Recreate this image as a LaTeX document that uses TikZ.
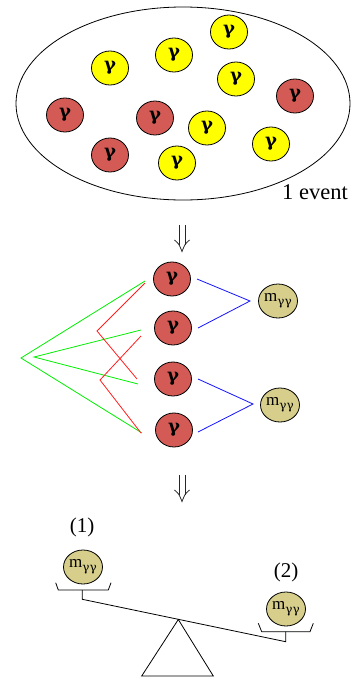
\documentclass[tikz,border=0pt]{standalone}
\usepackage{fontspec}
\setmainfont{Liberation Serif}
\newfontfamily\gfont{DejaVu Serif}
\usetikzlibrary{shapes.geometric,arrows.meta}
\definecolor{gred}{RGB}{212,90,85}
\definecolor{gyel}{RGB}{255,255,0}
\definecolor{gtan}{RGB}{214,206,138}
\definecolor{lgreen}{RGB}{0,240,0}
\definecolor{lred}{RGB}{255,30,30}
\definecolor{lblue}{RGB}{20,20,255}
\tikzset{
  ball/.style={ellipse, draw=black, line width=0.8pt, inner sep=0pt,
    minimum width=37pt, minimum height=34pt,
    font=\gfont\bfseries\fontsize{18}{18}\selectfont},
  gred/.style={ball, fill=gred},
  gyel/.style={ball, fill=gyel},
  mass/.style={ball, fill=gtan, font=\fontsize{17}{17}\selectfont},
  arrowline/.style={line width=0.8pt, draw=black!85},
  thinline/.style={line width=0.8pt},
  gl/.style={draw=lgreen, line width=0.8pt},
  rl/.style={draw=lred, line width=0.8pt},
  bl/.style={draw=lblue, line width=0.8pt},
  lbl/.style={font=\fontsize{21}{21}\selectfont, inner sep=0pt}
}
\newcommand{\mgg}{m\raisebox{-4pt}{\gfont\fontsize{12}{12}\selectfont γγ}}
\newcommand{\dnarrow}[2]{%
  \draw[arrowline] (#1-2.9,#2) -- (#1-2.9,#2+20);
  \draw[arrowline] (#1+3.1,#2) -- (#1+3.1,#2+20);
  \draw[arrowline] (#1-7.5,#2+15) .. controls (#1-3,#2+19) .. (#1,#2+26.5)
                   .. controls (#1+3,#2+19) .. (#1+7.5,#2+15);
}
\begin{document}
\begin{tikzpicture}[x=1pt,y=-1pt]
\useasboundingbox (0,0) rectangle (355,678);
% event ellipse
\node[ellipse, draw=black, line width=0.8pt, minimum width=334pt, minimum height=193pt, inner sep=0pt] (event) at (183,103.5) {};
\node[font=\fontsize{22.5}{22.5}\selectfont, inner sep=0pt] (evlabel) at (315,192) {1 event};
% photons in event
\node[gyel] (y1) at (110,68) {γ};
\node[gyel] (y2) at (174,55) {γ};
\node[gyel] (y3) at (229,32) {γ};
\node[gyel] (y4) at (236,79) {γ};
\node[gyel] (y5) at (207,128) {γ};
\node[gyel] (y6) at (271,144) {γ};
\node[gyel] (y7) at (177,163) {γ};
\node[gred] (e1) at (65,115) {γ};
\node[gred] (e2) at (155,118) {γ};
\node[gred] (e3) at (295,96) {γ};
\node[gred] (e4) at (110,155) {γ};
% arrow 1
\dnarrow{182}{225}
% pairing section
\node[gred] (g1) at (172,279) {γ};
\node[gred] (g2) at (173,328) {γ};
\node[gred] (g3) at (173,379) {γ};
\node[gred] (g4) at (174,430) {γ};
\node[mass] (m1) at (278,301) {\mgg};
\node[mass] (m2) at (280,405) {\mgg};
\coordinate (b1a) at (197,279);
\coordinate (b1v) at (250,301);
\coordinate (b1b) at (198,328);
\coordinate (b2a) at (198,379);
\coordinate (b2v) at (253,404);
\coordinate (b2b) at (198,432);
\draw[bl] (b1a) -- (b1v) -- (b1b);
\draw[bl] (b2a) -- (b2v) -- (b2b);
\coordinate (ga1) at (145,281);
\coordinate (gv1) at (21,358);
\coordinate (gb1) at (142,433);
\coordinate (ga2) at (141,330);
\coordinate (gv2) at (34,357);
\coordinate (gb2) at (138,384);
\draw[gl] (ga1) -- (gv1) -- (gb1);
\draw[gl] (ga2) -- (gv2) -- (gb2);
\coordinate (ra1) at (145,283);
\coordinate (rv1) at (97,331);
\coordinate (rb1) at (137,379);
\coordinate (ra2) at (141,336);
\coordinate (rv2) at (100,380);
\coordinate (rb2) at (141,433);
\draw[rl] (ra1) -- (rv1) -- (rb1);
\draw[rl] (ra2) -- (rv2) -- (rb2);
% arrow 2
\dnarrow{182}{475}
% balance
\node[lbl] (l1) at (82,527) {(1)};
\node[lbl] (l2) at (286,572) {(2)};
\node[mass] (w1) at (83,567) {\mgg};
\node[mass] (w2) at (286,609) {\mgg};
\coordinate (p1a) at (55.7,582.7);
\coordinate (p1b) at (58.3,590);
\coordinate (p1c) at (108.3,590);
\coordinate (p1d) at (111,582.7);
\coordinate (s1t) at (82.3,590);
\coordinate (s1b) at (82.3,599.3);
\coordinate (p2a) at (258.3,623.3);
\coordinate (p2b) at (261.7,631.7);
\coordinate (p2c) at (310,631.7);
\coordinate (p2d) at (313.3,623.3);
\coordinate (s2t) at (285.7,631.7);
\coordinate (s2b) at (285.7,641.7);
\draw[thinline] (p1a) -- (p1b) -- (p1c) -- (p1d);
\draw[thinline] (p2a) -- (p2b) -- (p2c) -- (p2d);
\draw[thinline] (s1t) -- (s1b) -- (s2b) -- (s2t);
\coordinate (tapex) at (178.3,619.5);
\coordinate (tl) at (141.7,676);
\coordinate (tr) at (213.3,676);
\draw[thinline, line join=miter] (tapex) -- (tl) -- (tr) -- cycle;
\end{tikzpicture}
\end{document}
